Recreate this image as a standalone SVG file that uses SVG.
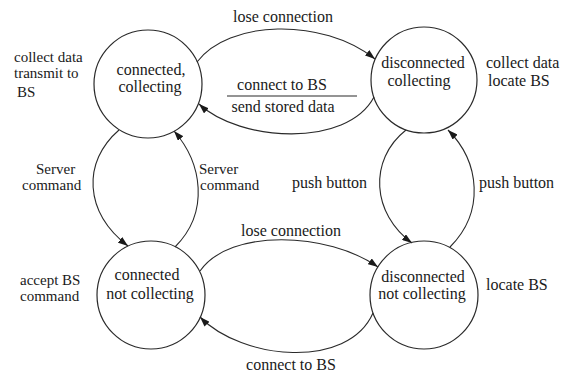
<svg xmlns="http://www.w3.org/2000/svg" width="568" height="374" viewBox="0 0 568 374" font-family="'Liberation Serif', 'DejaVu Serif', 'Times New Roman', serif">
<style>
.st{fill:none;stroke:#2a2a2a;stroke-width:1.2}
.cn{fill:none;stroke:#2a2a2a;stroke-width:1.1;marker-end:url(#ah)}
text{font-family:'Liberation Serif','DejaVu Serif','Times New Roman',serif;font-size:16px;fill:#1a1a1a}
.m{text-anchor:middle}
.s{font-size:15px}
</style>
<defs>
<marker id="ah" markerWidth="10" markerHeight="7" refX="10" refY="3.5" orient="auto" markerUnits="userSpaceOnUse">
<path d="M0,0 L10,3.5 L0,7 Z" fill="#1a1a1a"/>
</marker>
</defs>
<rect width="568" height="374" fill="#fff"/>
<g id="connectors">
<path class="cn" d="M197,62 C228,20 322,17 375,59"/>
<path class="cn" d="M374,97 C347,148 240,142 199,104"/>
<path class="cn" d="M200,271 C230,228 328,232 378,267"/>
<path class="cn" d="M373,313 C348,370 242,360 200,317"/>
<path class="cn" d="M119,130 C82,162 84,212 128,246"/>
<path class="cn" d="M175,247 C210,212 202,163 174,131"/>
<path class="cn" d="M406,130 C368,160 372,214 412,243"/>
<path class="cn" d="M450,247 C485,212 480,162 448,130"/>
<line x1="227" y1="96" x2="357" y2="96" stroke="#2a2a2a" stroke-width="1.1"/>
<text class="m" x="283" y="22">lose connection</text>
<text class="m" x="282" y="90">connect to BS</text>
<text class="m" x="283" y="112">send stored data</text>
<text class="m" x="291" y="236">lose connection</text>
<text class="m" x="291" y="370">connect to BS</text>
<text class="s" x="36" y="174">Server<tspan x="22" y="190">command</tspan></text>
<text class="s" x="199" y="174">Server<tspan x="200" y="190">command</tspan></text>
<text x="292" y="188">push button</text>
<text x="479" y="188">push button</text>
</g>
<g id="n1">
<circle class="st" cx="148" cy="84" r="54"/>
<text class="m" x="151" y="75">connected,<tspan x="150" y="92">collecting</tspan></text>
<text class="s" x="14" y="62">collect data<tspan x="14" y="78">transmit to</tspan><tspan x="17" y="97">BS</tspan></text>
</g>
<g id="n2">
<circle class="st" cx="424" cy="80" r="53"/>
<text class="m" x="423" y="68">disconnected<tspan x="419" y="86">collecting</tspan></text>
<text x="486" y="68">collect data<tspan x="488" y="86">locate BS</tspan></text>
</g>
<g id="n3">
<circle class="st" cx="151" cy="295" r="54"/>
<text class="m" x="147" y="280">connected<tspan x="150" y="299">not collecting</tspan></text>
<text class="s" x="20" y="285">accept BS<tspan x="20" y="301">command</tspan></text>
</g>
<g id="n4">
<circle class="st" cx="424" cy="295" r="54"/>
<text class="m" x="423" y="282">disconnected<tspan x="422" y="299">not collecting</tspan></text>
<text x="486" y="290">locate BS</text>
</g>
</svg>
